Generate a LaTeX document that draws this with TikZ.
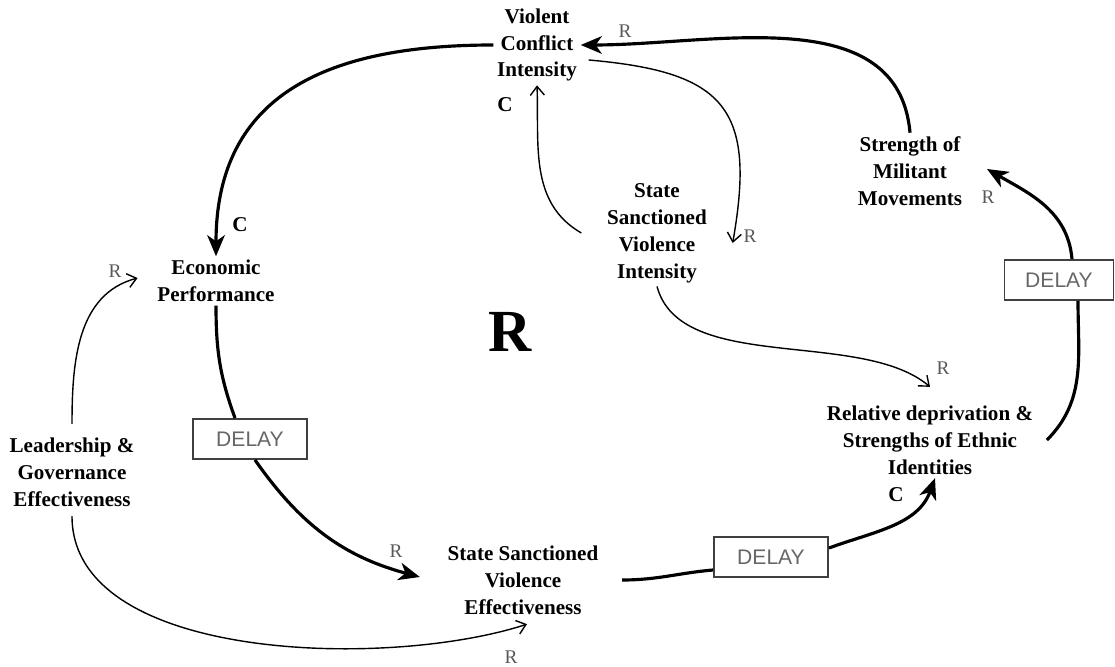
\documentclass[tikz,border=0pt]{standalone}
\usepackage{fontspec}
\setmainfont{Liberation Serif}
\newfontfamily\delayfont{Liberation Sans}
\usepackage{tikz}
\usetikzlibrary{arrows.meta}
\usetikzlibrary{positioning, calc}
\definecolor{labelgray}{rgb}{0.35, 0.35, 0.35}

\begin{document}
\begin{tikzpicture}[x=0.02cm, y=0.02cm,
            var/.style={align=center, font=\bfseries\fontsize{12}{15.3}\selectfont, inner sep=2pt},
            delaybox/.style={draw=black!75, line width=1.1pt, minimum width=2.28cm, minimum height=0.8cm, inner sep=0pt, font=\delayfont\fontsize{12}{14}\selectfont, text=black!60},
            pol/.style={font=\fontsize{11}{13}\selectfont, text=labelgray, inner sep=0pt},
            polc/.style={font=\bfseries\fontsize{12}{14}\selectfont, inner sep=0pt},
            link/.style={line width=1.8pt, -{Stealth[length=12pt, width=10pt, inset=3.5pt]}},
            thinlink/.style={line width=0.8pt, -{Straight Barb[length=5pt, width=8pt]}},
            seg/.style={line width=1.8pt}]
            \useasboundingbox (0,0) rectangle (1115,666);

            % Variables
            \node[var] (vci) at (537,621) {Violent\\Conflict\\Intensity};
            \node[var] (smm) at (910,495) {Strength of\\Militant\\Movements};
            \node[var] (ssvi) at (657,433) {State\\Sanctioned\\Violence\\Intensity};
            \node[var] (econ) at (216,385) {Economic\\Performance};
            \node[var] (lead) at (72,194) {Leadership \&\\Governance\\Effectiveness};
            \node[var] (reldep) at (930,226) {Relative deprivation \&\\Strengths of Ethnic\\Identities};
            \node[var] (ssve) at (523,86) {State Sanctioned\\Violence\\Effectiveness};

            % Delays
            \node[delaybox] (dL) at (250,227) {DELAY};
            \node[delaybox] (dB) at (771,109) {DELAY};
            \node[delaybox, minimum width=2.18cm] (dR) at (1059,386) {DELAY};

            % Polarities
            \node[polc] (cVci) at (505,561) {C};
            \node[polc] (cEcon) at (240,441) {C};
            \node[polc] (cRel) at (896,171) {C};
            \node[pol] (rVci) at (625,635) {R};
            \node[pol] (rSmm) at (988,469) {R};
            \node[pol] (rSsvi) at (750,430) {R};
            \node[pol] (rEcon) at (115,395) {R};
            \node[pol] (rRel) at (943,298) {R};
            \node[pol] (rSsve) at (396,115) {R};
            \node[pol] (rLead) at (511,9) {R};
            \node[font=\bfseries\fontsize{34}{34}\selectfont] (loop) at (510,334) {R};

            % Main loop
            \draw[link] (vci.west) to[out=180, in=90, looseness=1.2] (econ.north);
            \draw[seg] (econ.south) to[out=-90, in=110] ($(dL.north)+(-15,0)$);
            \draw[link] ($(dL.south)+(5,0)$) to[out=-55, in=165] ($(ssve.west)+(-24,3)$);
            \draw[seg] ($(ssve.east)+(20,0)$) to[out=0, in=185] ($(dB.west)+(0,-13)$);
            \draw[link] ($(dB.east)+(0,9)$) to[out=20, in=-110] ($(reldep.south)+(5,0)$);
            \draw[seg] ($(reldep.east)+(10,0)$) to[out=45, in=-90] ($(dR.south)+(19,0)$);
            \draw[link] ($(dR.north)+(13,0)$) to[out=95, in=-30] ($(smm.east)+(21,2)$);
            \draw[link] (smm.north) to[out=95, in=0] (vci.east);

            % Side links
            \draw[thinlink] ($(vci.east)+(8,-15)$) to[out=-5, in=80, looseness=1.5] ($(ssvi.east)+(22,-10)$);
            \draw[thinlink] ($(ssvi.west)+(-22,0)$) to[out=150, in=-88] (vci.south);
            \draw[thinlink] (ssvi.south) to[out=-75, in=140, looseness=0.8] ($(reldep.north)+(0,15)$);
            \draw[thinlink] ($(lead.north)+(0,10)$) to[out=90, in=195] ($(econ.west)+(-16,3)$);
            \draw[thinlink] ($(lead.south)+(0,-6)$) to[out=-90, in=198, looseness=0.8] ($(ssve.south)+(4,-6)$);
        \end{tikzpicture}
\end{document}
